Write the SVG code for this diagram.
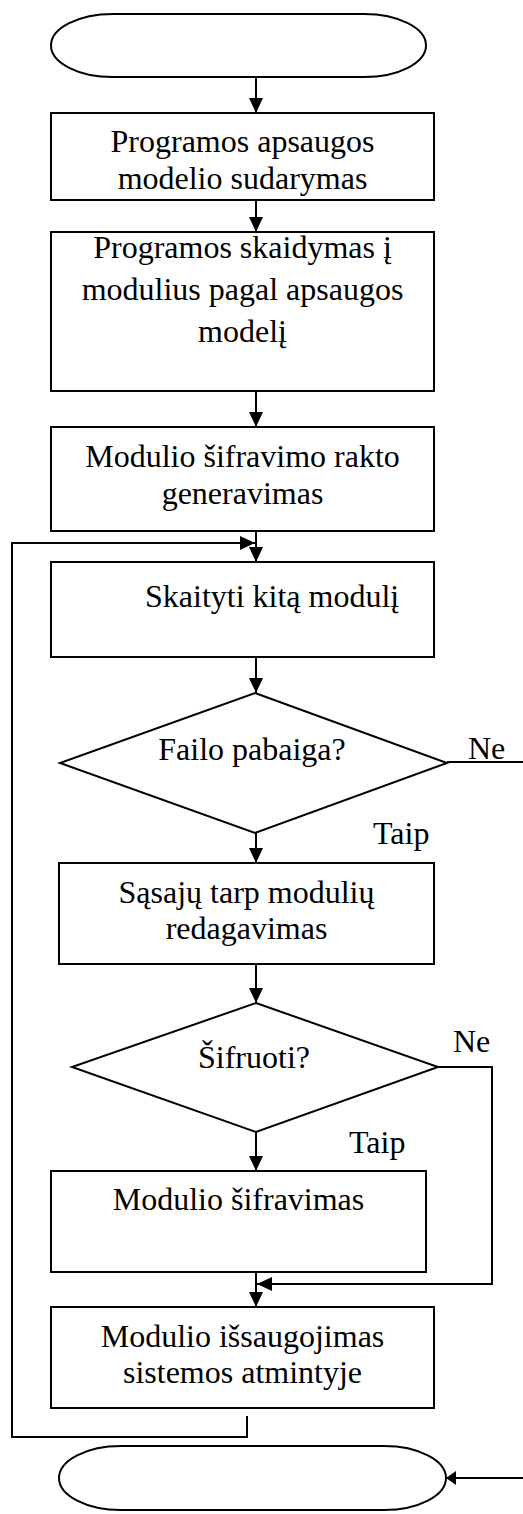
<svg xmlns="http://www.w3.org/2000/svg" width="523" height="1514" viewBox="0 0 523 1514">
  <style>
    .shape { fill: #ffffff; stroke: #000000; stroke-width: 2; }
    .conn { fill: none; stroke: #000000; stroke-width: 2; }
    .lbl { font-family: "Liberation Serif", "Times New Roman", serif; font-size: 32px; fill: #000000; }
    .mid { text-anchor: middle; }
  </style>
  <defs>
    <marker id="arrow" markerUnits="userSpaceOnUse" markerWidth="16" markerHeight="14" refX="15" refY="7" orient="auto">
      <path d="M0,0 L15,7 L0,14 Z" fill="#000000"/>
    </marker>
    <marker id="arrowSmall" markerUnits="userSpaceOnUse" markerWidth="12" markerHeight="14" refX="10" refY="7" orient="auto">
      <path d="M0,0 L10,7 L0,14 Z" fill="#000000"/>
    </marker>
  </defs>

  <!-- connectors -->
  <g id="connectors">
    <line class="conn" x1="256" y1="77" x2="256" y2="113" marker-end="url(#arrow)"/>
    <line class="conn" x1="256" y1="200" x2="256" y2="232" marker-end="url(#arrow)"/>
    <line class="conn" x1="256" y1="391" x2="256" y2="427" marker-end="url(#arrow)"/>
    <line class="conn" x1="256" y1="531" x2="256" y2="562" marker-end="url(#arrow)"/>
    <line class="conn" x1="256" y1="657" x2="256" y2="693" marker-end="url(#arrow)"/>
    <line class="conn" x1="256" y1="833" x2="256" y2="863" marker-end="url(#arrow)"/>
    <line class="conn" x1="256" y1="964" x2="256" y2="1003" marker-end="url(#arrow)"/>
    <line class="conn" x1="256" y1="1132" x2="256" y2="1171" marker-end="url(#arrow)"/>
    <line class="conn" x1="256" y1="1272" x2="256" y2="1307" marker-end="url(#arrow)"/>
    <!-- loop back to reading the next module -->
    <polyline class="conn" points="247,1416 247,1437 12,1437 12,543 255,543" marker-end="url(#arrow)"/>
    <!-- "Ne" branch of the end-of-file test -->
    <polyline class="conn" points="447,762 530,762 530,1478 446,1478" marker-end="url(#arrowSmall)"/>
    <!-- "Ne" branch of the encrypt test -->
    <polyline class="conn" points="438,1067 492,1067 492,1284 257,1284" marker-end="url(#arrow)"/>
  </g>

  <g id="start">
    <rect class="shape" x="51" y="14" width="375" height="63" rx="62" ry="31.5"/>
  </g>

  <g id="model">
    <rect class="shape" x="51" y="113" width="383" height="87"/>
    <text class="lbl mid" x="242.5" y="152">Programos apsaugos</text>
    <text class="lbl mid" x="242.5" y="189">modelio sudarymas</text>
  </g>

  <g id="split">
    <rect class="shape" x="51" y="232" width="383" height="159"/>
    <text class="lbl mid" x="242.5" y="258">Programos skaidymas į</text>
    <text class="lbl mid" x="242.5" y="300">modulius pagal apsaugos</text>
    <text class="lbl mid" x="242.5" y="342">modelį</text>
  </g>

  <g id="keygen">
    <rect class="shape" x="51" y="427" width="383" height="104"/>
    <text class="lbl mid" x="242.5" y="467">Modulio šifravimo rakto</text>
    <text class="lbl mid" x="242.5" y="504">generavimas</text>
  </g>

  <g id="read">
    <rect class="shape" x="51" y="562" width="383" height="95"/>
    <text class="lbl" x="145" y="607">Skaityti kitą modulį</text>
  </g>

  <g id="eof">
    <polygon class="shape" points="255,693 447,763 255,833 60,763"/>
    <text class="lbl mid" x="252" y="760">Failo pabaiga?</text>
    <text class="lbl" x="468" y="759">Ne</text>
    <text class="lbl" x="373" y="844">Taip</text>
  </g>

  <g id="links">
    <rect class="shape" x="59" y="863" width="375" height="101"/>
    <text class="lbl mid" x="246.5" y="903">Sąsajų tarp modulių</text>
    <text class="lbl mid" x="246.5" y="939">redagavimas</text>
  </g>

  <g id="encrypt-test">
    <polygon class="shape" points="256,1003 438,1067 256,1132 72,1067"/>
    <text class="lbl mid" x="254" y="1068">Šifruoti?</text>
    <text class="lbl" x="453" y="1052">Ne</text>
    <text class="lbl" x="349" y="1153">Taip</text>
  </g>

  <g id="encrypt">
    <rect class="shape" x="51" y="1171" width="375" height="101"/>
    <text class="lbl mid" x="238.5" y="1210">Modulio šifravimas</text>
  </g>

  <g id="store">
    <rect class="shape" x="51" y="1307" width="383" height="101"/>
    <text class="lbl mid" x="242.5" y="1347">Modulio išsaugojimas</text>
    <text class="lbl mid" x="242.5" y="1383">sistemos atmintyje</text>
  </g>

  <g id="end">
    <rect class="shape" x="59" y="1446" width="387" height="64" rx="62" ry="32"/>
  </g>
</svg>
